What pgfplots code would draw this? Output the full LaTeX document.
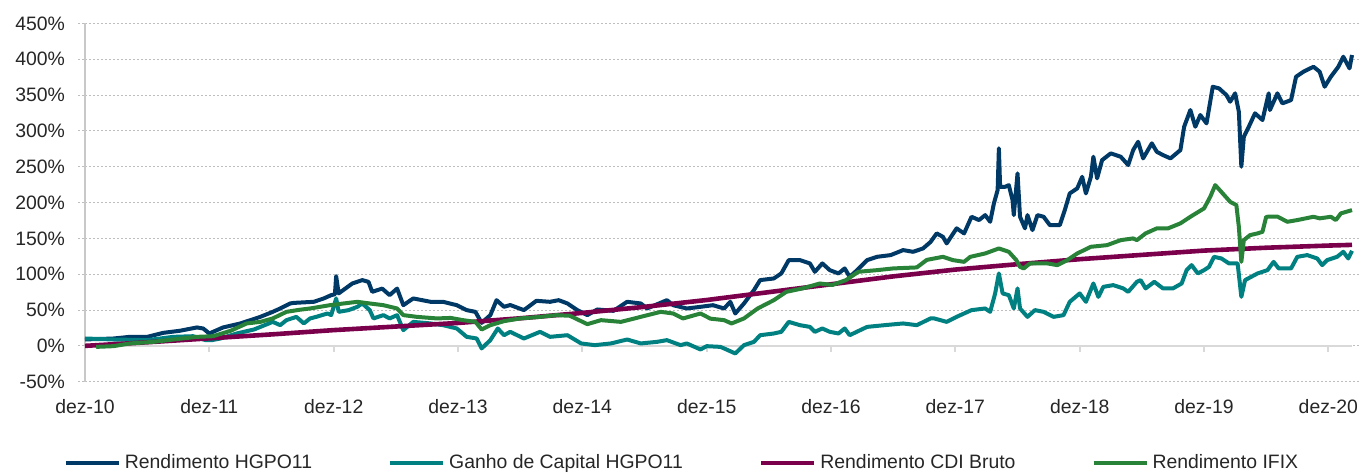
\documentclass[border=0pt]{standalone}
\usepackage{pgfplots}
\pgfplotsset{compat=1.18}
\usepackage{fontspec}
\setmainfont{Liberation Sans}
\definecolor{cBlue}{RGB}{0,56,102}
\definecolor{cTeal}{RGB}{0,128,128}
\definecolor{cCDI}{RGB}{122,0,76}
\definecolor{cGreen}{RGB}{40,130,55}
\definecolor{cGrid}{RGB}{190,190,190}
\definecolor{cZero}{RGB}{217,217,217}
\definecolor{cAxis}{RGB}{200,200,200}

\pgfplotstableread{
x y
0 9
0.1 9.5
0.23 10.3
0.36 12.6
0.5 12.6
0.63 18.2
0.76 21
0.9 25.7
0.95 24.3
1.0 17.3
1.11 25.7
1.25 31.3
1.41 40.5
1.51 47.5
1.57 52.2
1.65 59.2
1.68 60
1.84 61.5
1.92 66.2
1.98 70.8
2.01 72
2.02 97.3
2.04 73.2
2.15 87.1
2.23 91.8
2.28 89.4
2.31 75.4
2.39 80
2.45 70.8
2.51 80
2.56 56.8
2.64 66.2
2.78 61.5
2.88 61.5
2.99 56.8
3.07 49.9
3.14 47.5
3.19 32.1
3.26 42.9
3.31 63.8
3.37 54.5
3.42 57
3.53 49.9
3.63 62.9
3.74 61.5
3.81 63.8
3.88 59.2
3.96 49.9
4.04 42.9
4.12 50.8
4.25 48.9
4.36 61.5
4.47 59.2
4.52 52.2
4.68 63.8
4.73 56.8
4.84 52.2
4.95 54.5
5.05 56.8
5.14 52.2
5.19 61.5
5.23 45.2
5.30 59.2
5.38 77.8
5.43 91.8
5.54 94.1
5.60 101.1
5.66 119.7
5.75 119.7
5.83 115.1
5.87 103.4
5.93 115.1
5.99 105.7
6.06 101.1
6.11 108.1
6.15 96.4
6.21 105.7
6.29 119.7
6.37 124.3
6.48 126.7
6.58 133.7
6.66 131.3
6.74 136
6.80 145
6.85 157
6.90 152.2
6.93 143
7.01 164
7.07 157
7.13 180.2
7.19 175.6
7.24 182.5
7.28 173.2
7.31 198.9
7.34 217.5
7.35 275.7
7.36 222
7.40 222
7.43 224.4
7.46 203.5
7.47 182.5
7.50 240.8
7.52 180.2
7.56 164
7.58 182.5
7.62 161.6
7.66 182.5
7.71 180.2
7.76 168.6
7.84 168.6
7.88 189.5
7.92 212.8
7.98 219.8
8.02 236
8.05 212.8
8.09 236
8.11 264
8.14 233.8
8.18 259.3
8.25 268.7
8.33 264
8.39 252.4
8.43 273.3
8.47 284.9
8.51 261.7
8.58 282.7
8.62 270.9
8.67 266.3
8.73 261.7
8.81 273.3
8.84 305.9
8.89 329.2
8.93 305.9
8.97 322.2
9.02 310.6
9.07 361.7
9.12 359.5
9.18 350.1
9.21 340.8
9.25 352.5
9.28 326.8
9.30 250
9.32 291.9
9.36 305.9
9.41 324.6
9.47 315.2
9.52 352.5
9.53 329.2
9.59 352.5
9.63 338.5
9.70 343.1
9.74 375.7
9.80 382.7
9.88 389.6
9.93 382.7
9.97 361.7
10.02 375.7
10.08 389.6
10.12 403.6
10.17 387.4
10.19 406
}\hgpo

\pgfplotstableread{
x y
0 10.3
0.23 8.9
0.5 8.0
0.71 12.6
0.87 13.5
0.97 8.0
1.02 8.0
1.09 10.3
1.22 17.3
1.36 22.9
1.51 33.5
1.57 28.9
1.62 35.9
1.70 40.5
1.76 31.3
1.81 38.3
1.86 40.5
1.95 45.2
1.98 42.9
2.02 66.2
2.04 47.5
2.12 49.9
2.19 54.5
2.23 59.2
2.29 49.9
2.32 38.3
2.40 42.9
2.45 38.3
2.51 42.9
2.56 21.9
2.64 33.5
2.78 31.3
2.88 28.9
2.99 24.3
3.07 12.6
3.15 10.3
3.19 -3.6
3.26 8.0
3.32 24.3
3.37 14.9
3.42 19.6
3.53 10.3
3.66 19.6
3.74 12.6
3.88 14.9
3.99 3.4
4.10 1.0
4.23 3.4
4.36 8.9
4.47 3.4
4.60 5.6
4.68 8.0
4.79 1.0
4.84 3.4
4.95 -5.0
5.00 -0.4
5.11 -1.4
5.14 -3.6
5.23 -10.6
5.30 1.0
5.38 5.6
5.43 14.9
5.54 17.3
5.60 19.6
5.66 33.5
5.75 28.9
5.83 26.5
5.87 19.6
5.93 24.3
5.99 19.6
6.06 17.3
6.11 24.3
6.15 14.9
6.29 26.5
6.43 28.9
6.58 31.3
6.69 28.9
6.80 38.3
6.83 38.3
6.93 33.5
7.01 40.5
7.13 49.9
7.24 52.2
7.28 47.5
7.32 73.2
7.35 101.1
7.38 73.2
7.43 70.8
7.47 52.2
7.50 80.2
7.52 52.2
7.58 40.5
7.64 49.9
7.71 47.5
7.79 40.5
7.87 42.9
7.92 61.5
8.00 73.2
8.05 61.5
8.11 87.1
8.15 68.4
8.19 82.4
8.27 84.8
8.35 80.2
8.39 75.4
8.46 89.4
8.49 91.8
8.53 80.2
8.60 89.4
8.67 80.2
8.75 80.2
8.82 87.1
8.86 105.7
8.90 112.7
8.95 101.1
9.00 105.7
9.04 110.3
9.08 124.3
9.14 122
9.20 115.1
9.27 115.1
9.30 68.4
9.33 91.8
9.43 101.1
9.51 105.7
9.56 117.3
9.60 108.1
9.70 108.1
9.75 124.3
9.83 126.7
9.91 122
9.95 112.7
9.99 119.7
10.07 124.3
10.12 131.3
10.16 122
10.19 132.7
}\ganho

\pgfplotstableread{
x y
0 0
0.5 5
1 10.5
1.5 16
2 22
2.5 27
3 32
3.5 38.5
4 46
4.5 54.5
5 64
5.5 75
6 86
6.5 97
7 106.5
7.5 114
8 121
8.5 127
9 133
9.5 137
10 140
10.19 141
}\cdi

\pgfplotstableread{
x y
0.09 -1.4
0.23 -0.4
0.36 3.4
0.55 5.6
0.71 8.9
0.90 12.6
1.03 13.5
1.17 21
1.30 31.3
1.41 33.5
1.51 38.3
1.62 47.5
1.73 50.5
1.81 52.2
1.97 56.8
2.08 59.2
2.19 61.5
2.29 59.2
2.40 56.8
2.51 52.2
2.56 42.9
2.67 40.5
2.83 38.3
2.94 39
3.04 35.9
3.14 33.5
3.19 22.9
3.26 28.9
3.37 34.5
3.50 38.3
3.66 40.5
3.79 42.9
3.90 42
4.04 30.3
4.15 35.9
4.31 33.5
4.47 40.5
4.63 47.5
4.73 45.2
4.81 38.3
4.95 45.2
5.03 38
5.14 35.9
5.20 31.3
5.30 38.3
5.41 52.2
5.54 63.8
5.64 75.4
5.77 80.2
5.91 87.1
6.01 85
6.12 91.8
6.22 103.4
6.37 105.7
6.50 108.1
6.69 109.5
6.77 120
6.83 122
6.90 124.3
6.98 119.7
7.07 117.3
7.12 124.3
7.24 129
7.35 136
7.43 131.3
7.49 119.7
7.52 110.3
7.55 108.1
7.60 115.1
7.74 115.1
7.82 112.7
7.90 119.7
7.98 129
8.09 138.3
8.22 140.6
8.33 147.6
8.43 150
8.46 147.6
8.53 157
8.62 164
8.71 164
8.81 171
8.89 180.2
9.00 191.9
9.05 208.1
9.09 224.4
9.15 212.8
9.21 201.1
9.26 196.5
9.28 166.2
9.30 117.3
9.32 147.6
9.37 154.6
9.43 157
9.47 159.2
9.50 180.2
9.59 180.5
9.67 173.2
9.75 175.6
9.88 180.2
9.93 178
10.02 180.2
10.06 175.6
10.10 184.9
10.19 189.5
}\ifix

\begin{document}
\begin{tikzpicture}
\begin{axis}[
  at={(0pt,0pt)}, anchor=south west,
  scale only axis, width=633.5pt, height=179.1pt,
  xmin=0, xmax=10.19, ymin=-50, ymax=450,
  axis line style={draw=none},
  clip=false,
  xtick={0,1,...,10},
  xticklabels={dez-10,dez-11,dez-12,dez-13,dez-14,dez-15,dez-16,dez-17,dez-18,dez-19,dez-20},
  ytick={-50,0,50,...,450},
  yticklabel={\pgfmathprintnumber{\tick}\%},
  /pgf/number format/assume math mode=true,
  ymajorgrids,
  grid style={cGrid, dash pattern=on 1pt off 1pt, line width=0.5pt},
  tick align=outside,
  major tick length=3.5pt,
  xtick style={draw=none},
  ytick style={cGrid, dash pattern=on 1pt off 1pt, line width=0.5pt},
  tick label style={font=\fontsize{9.7}{11}\selectfont, text=black!85},
  yticklabel style={xshift=-3pt},
  xticklabel style={yshift=-2pt},
  legend columns=4,
  legend style={at={(0.4720,-0.227)}, anchor=center, draw=none, fill=none,
    font=\fontsize{9.7}{11}\selectfont, text=black!85,
    /tikz/every even column/.append style={column sep=36pt}},
  legend image code/.code={\draw[#1] (0pt,0pt) -- (26.5pt,0pt);},
  every axis plot/.append style={line width=2pt, line join=round},
]
\draw[cAxis, line width=0.7pt] (axis cs:0,-50) -- (axis cs:0,450);
\draw[cZero, line width=1.1pt] (axis cs:0,0) -- (axis cs:10.19,0);
\pgfplotsinvokeforeach{1,...,10}{\draw[cZero, line width=1pt] (axis cs:#1,0) -- ([yshift=-3pt]axis cs:#1,0);}
\addplot[cBlue] table[x=x,y=y]{\hgpo};
\addlegendentry{Rendimento HGPO11}
\addplot[cTeal] table[x=x,y=y]{\ganho};
\addlegendentry{Ganho de Capital HGPO11}
\addplot[cCDI, line width=2.3pt] table[x=x,y=y]{\cdi};
\addlegendentry{Rendimento CDI Bruto}
\addplot[cGreen] table[x=x,y=y]{\ifix};
\addlegendentry{Rendimento IFIX}
\end{axis}
\pgfresetboundingbox
\path[use as bounding box] (-42.5pt,-46.65pt) rectangle (638.5pt,190.85pt);
\end{tikzpicture}
\end{document}
